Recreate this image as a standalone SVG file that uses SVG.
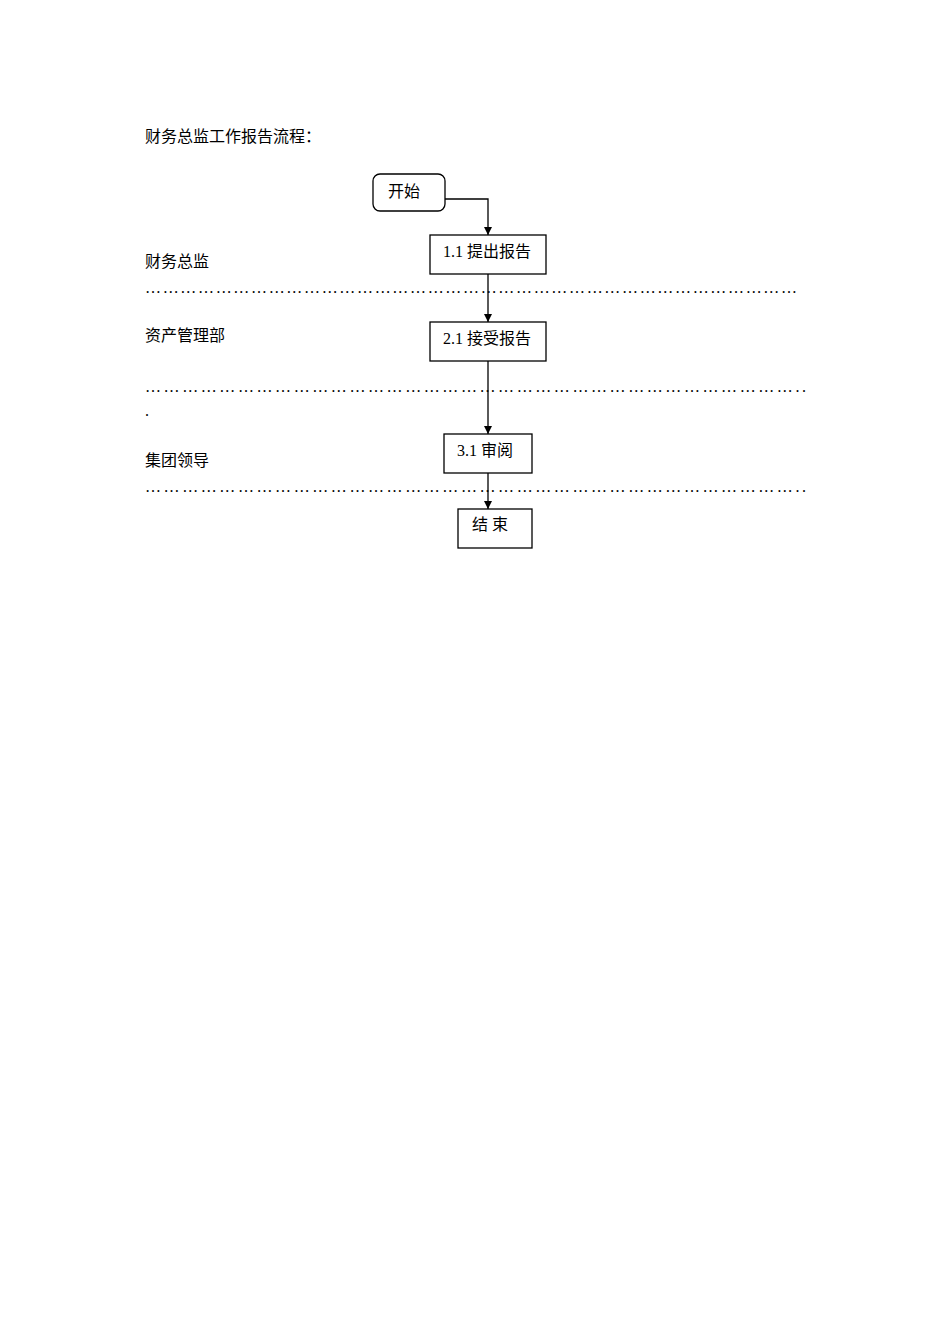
<svg xmlns="http://www.w3.org/2000/svg" width="950" height="1344" viewBox="0 0 950 1344">
<style>
text{font-family:"Liberation Serif","Noto Sans CJK SC",serif;font-size:16px;fill:#000}
.b{fill:#fff;stroke:#000;stroke-width:1.3}
.c{stroke:#000;stroke-width:1.3;fill:none}
</style>
<defs><marker id="a" viewBox="0 0 10 10" refX="10" refY="5" markerWidth="8" markerHeight="8" markerUnits="userSpaceOnUse" orient="auto"><path d="M0,0L10,5L0,10z"/></marker></defs>
<rect width="950" height="1344" fill="#fff"/>
<text x="145" y="142">财务总监工作报告流程：</text>
<text x="145" y="267">财务总监</text>
<text x="145" y="341">资产管理部</text>
<text x="145" y="466">集团领导</text>
<text x="145" y="293" textLength="652" lengthAdjust="spacing">…………………………………………………………………………………………………</text>
<text x="145" y="392" textLength="661" lengthAdjust="spacing">……………………………………………………………………………………………..</text>
<text x="145" y="416">.</text>
<text x="145" y="492" textLength="661" lengthAdjust="spacing">……………………………………………………………………………………………..</text>
<g id="connectors">
<path class="c" d="M445,199H488V235" marker-end="url(#a)"/>
<path class="c" d="M488,274V322" marker-end="url(#a)"/>
<path class="c" d="M488,361V434" marker-end="url(#a)"/>
<path class="c" d="M488,473V509" marker-end="url(#a)"/>
</g>
<g id="start"><rect class="b" x="373" y="174" width="72" height="37" rx="7"/><text x="388" y="197">开始</text></g>
<g id="n11"><rect class="b" x="430" y="235" width="116" height="39"/><text x="443" y="257">1.1 提出报告</text></g>
<g id="n21"><rect class="b" x="430" y="322" width="116" height="39"/><text x="443" y="344">2.1 接受报告</text></g>
<g id="n31"><rect class="b" x="444" y="434" width="88" height="39"/><text x="457" y="456">3.1 审阅</text></g>
<g id="end"><rect class="b" x="458" y="509" width="74" height="39"/><text x="472" y="530">结 束</text></g>
</svg>
